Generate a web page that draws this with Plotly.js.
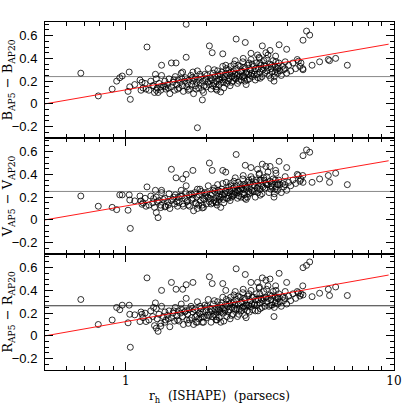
<!DOCTYPE html>
<html>
<head>
<meta charset="utf-8">
<script src="https://cdn.plot.ly/plotly-3.0.0.min.js"></script>
<style>
  body { margin: 0; background: #fff; }
  #graph { width: 415px; height: 415px; }
</style>
</head>
<body>
<div id="graph"></div>
<script>
// half-light radius (pc) of each cluster, shared by the three panels
var rH = [
  0.68,0.79,0.89,0.925,0.95,0.97,1.02,1.03,1.035,1.04,
  1.08,1.13,1.14,1.15,1.20,1.19,1.27,1.29,1.36,1.32,
  1.30,1.35,1.40,1.48,1.54,1.63,1.68,1.68,1.78,1.85,
  1.93,2.05,2.10,2.17,2.26,2.30,2.36,2.58,2.79,2.93,
  3.10,3.15,3.23,3.33,3.45,3.73,3.98,3.62,3.63,3.69,
  3.57,3.47,3.17,2.78,3.92,4.36,4.40,4.50,4.46,4.57,
  4.58,4.58,4.72,4.85,4.95,5.28,5.69,5.75,6.06,6.70,
  1.16,1.18,1.22,1.24,1.26,1.28,1.30,1.31,1.33,1.35,
  1.36,1.38,1.40,1.41,1.43,1.45,1.46,1.48,1.50,1.52,
  1.53,1.55,1.57,1.58,1.60,1.61,1.63,1.64,1.66,1.67,
  1.69,1.70,1.72,1.73,1.75,1.76,1.78,1.79,1.81,1.82,
  1.84,1.85,1.87,1.88,1.90,1.91,1.93,1.94,1.96,1.97,
  1.99,2.00,2.02,2.03,2.05,2.07,2.08,2.10,2.12,2.13,
  2.15,2.17,2.18,2.20,2.22,2.23,2.25,2.27,2.29,2.30,
  2.32,2.34,2.36,2.38,2.40,2.42,2.43,2.45,2.47,2.49,
  2.51,2.53,2.55,2.57,2.59,2.61,2.63,2.65,2.67,2.69,
  2.71,2.73,2.75,2.77,2.79,2.81,2.83,2.85,2.87,2.89,
  2.91,2.93,2.95,2.97,3.00,3.02,3.04,3.07,3.09,3.12,
  3.14,3.17,3.19,3.22,3.25,3.27,3.30,3.33,3.36,3.39,
  3.42,3.45,3.48,3.51,3.54,3.58,3.61,3.64,3.68,3.72,
  3.76,3.80,3.84,3.88,3.93,3.98,4.05,4.12,4.20,4.30,
  1.44,1.51,1.56,1.62,1.71,1.77,1.83,1.89,1.95,2.01,
  2.06,2.11,2.14,2.19,2.21,2.24,2.28,2.31,2.35,2.37,
  2.41,2.44,2.46,2.48,2.52,2.54,2.56,2.60,2.62,2.64,
  2.68,2.72,2.74,2.76,2.80,2.84,2.88,2.92,2.96,3.01,
  3.05,3.11,3.16,3.21,3.28,3.35,3.40,3.50,3.60,3.70
];

var bDiff = [
  .27,.07,.13,.20,.23,.245,.11,.28,.15,.04,
  .17,.21,.12,.19,.50,.13,.16,.26,.34,.10,
  .12,.15,.15,.36,.36,.28,.41,.70,.28,-.21,
  .035,.51,.45,.13,.105,.44,.34,.57,.54,.445,
  .43,.40,.51,.45,.47,.52,.48,.42,.37,.31,
  .20,.225,.225,.20,.31,.39,.375,.36,.33,.31,
  .30,.56,.64,.605,.34,.37,.39,.38,.40,.34,
  .14,.18,.12,.20,.16,.10,.22,.14,.18,.12,
  .25,.16,.20,.13,.17,.22,.09,.15,.19,.12,
  .24,.17,.21,.14,.19,.27,.16,.11,.20,.23,
  .15,.18,.21,.13,.25,.17,.20,.09,.22,.16,
  .19,.29,.14,.21,.18,.24,.12,.20,.16,.26,
  .22,.15,.19,.31,.17,.23,.13,.21,.27,.18,
  .24,.15,.20,.29,.22,.17,.26,.19,.23,.33,
  .14,.21,.27,.18,.25,.30,.22,.16,.28,.24,
  .20,.35,.26,.22,.31,.18,.27,.24,.33,.21,
  .29,.37,.25,.23,.31,.17,.28,.34,.26,.22,
  .30,.39,.27,.24,.33,.29,.21,.36,.26,.31,
  .41,.28,.34,.24,.30,.38,.27,.33,.29,.43,
  .25,.35,.31,.28,.38,.24,.33,.30,.27,.36,
  .29,.25,.33,.30,.37,.27,.34,.29,.36,.31,
  .14,.21,.13,.22,.12,.23,.13,.26,.10,.25,
  .20,.16,.30,.12,.25,.21,.28,.19,.24,.31,
  .20,.27,.33,.19,.29,.23,.38,.25,.34,.20,
  .28,.24,.40,.32,.27,.21,.36,.25,.35,.26,
  .31,.23,.36,.31,.34,.40,.32,.34,.28,.33
];

var vDiff = [
  .21,.12,.11,.09,.22,.22,.085,.22,.175,-.075,
  .167,.21,.167,.137,.29,.12,.187,.26,.26,.02,
  .064,.108,.114,.445,.37,.36,.40,.30,.435,.10,
  .105,.50,.435,.15,.11,.435,.42,.575,.48,.46,
  .445,.41,.49,.47,.47,.515,.46,.435,.41,.31,
  .20,.27,.217,.19,.31,.40,.39,.357,.34,.39,
  .33,.565,.615,.595,.33,.36,.39,.33,.41,.31,
  .15,.19,.13,.21,.15,.11,.20,.16,.17,.13,
  .24,.18,.19,.12,.16,.23,.10,.17,.18,.14,
  .22,.16,.20,.15,.21,.26,.14,.12,.19,.24,
  .16,.17,.22,.12,.23,.18,.19,.08,.24,.15,
  .20,.27,.13,.22,.17,.25,.13,.19,.18,.24,
  .21,.14,.20,.30,.16,.22,.14,.23,.26,.17,
  .25,.16,.19,.31,.21,.18,.25,.20,.22,.32,
  .15,.23,.26,.19,.24,.29,.21,.17,.30,.23,
  .21,.34,.25,.24,.30,.19,.26,.25,.31,.20,
  .28,.36,.27,.22,.30,.18,.29,.33,.25,.23,
  .32,.38,.26,.25,.31,.30,.20,.35,.28,.30,
  .40,.27,.35,.23,.29,.37,.28,.32,.31,.42,
  .24,.34,.30,.29,.36,.23,.35,.29,.26,.35,
  .31,.24,.32,.29,.38,.26,.33,.30,.35,.32,
  .13,.20,.12,.21,.13,.22,.14,.27,.11,.24,
  .19,.15,.28,.13,.26,.20,.27,.18,.25,.33,
  .19,.26,.32,.20,.28,.22,.37,.26,.33,.21,
  .27,.23,.39,.31,.28,.20,.35,.24,.36,.25,
  .33,.24,.35,.30,.35,.38,.31,.33,.27,.32
];

var rDiff = [
  .32,.10,.14,.25,.23,.27,.115,.27,.19,-.10,
  .185,.126,.21,.19,.51,.126,.25,.29,.40,.04,
  .068,.085,.12,.47,.41,.41,.45,.33,.47,.12,
  .164,.52,.46,.14,.12,.46,.40,.59,.54,.47,
  .47,.43,.51,.49,.50,.55,.47,.44,.40,.33,
  .17,.27,.24,.18,.33,.39,.38,.37,.35,.44,
  .36,.60,.62,.65,.345,.375,.41,.355,.43,.355,
  .16,.20,.14,.22,.17,.09,.24,.15,.19,.11,
  .26,.17,.21,.14,.18,.22,.08,.16,.20,.13,
  .25,.18,.22,.13,.20,.28,.17,.10,.21,.22,
  .14,.19,.23,.14,.26,.16,.21,.10,.23,.17,
  .18,.30,.15,.20,.19,.24,.12,.21,.17,.27,
  .23,.16,.18,.32,.18,.24,.12,.22,.28,.19,
  .23,.17,.21,.30,.23,.16,.27,.21,.24,.34,
  .13,.22,.28,.17,.26,.31,.23,.15,.29,.25,
  .19,.36,.27,.23,.32,.17,.28,.23,.34,.22,
  .30,.38,.26,.24,.32,.16,.27,.35,.27,.21,
  .31,.40,.28,.23,.34,.28,.22,.37,.27,.32,
  .42,.29,.33,.25,.31,.39,.26,.34,.30,.44,
  .26,.36,.32,.27,.39,.25,.34,.31,.28,.37,
  .30,.26,.34,.31,.39,.28,.35,.31,.37,.33,
  .15,.22,.14,.23,.11,.24,.12,.26,.12,.26,
  .21,.17,.31,.14,.24,.22,.29,.20,.23,.32,
  .21,.28,.34,.18,.30,.24,.39,.24,.35,.19,
  .29,.25,.41,.33,.26,.22,.37,.26,.34,.27,
  .32,.22,.37,.32,.33,.41,.33,.35,.29,.34
];

// fitted relations (red) and median offsets (black)
var fitX = [0.5, 9.55];
var fitB = [0.0, 0.525];
var fitV = [0.0, 0.52];
var fitR = [0.0, 0.535];
var medX = [0.5, 10];
var medB = [0.24, 0.24];
var medV = [0.25, 0.25];
var medR = [0.265, 0.265];

var xTicks = [1, 10];
var xMinor = [0.5, 0.6, 0.7, 0.8, 0.9, 2, 3, 4, 5, 6, 7, 8, 9];

var panel = function(xa, ya, yVals, fitY, medY, medColor) {
  return [{
    x: medX, y: medY, xaxis: xa, yaxis: ya,
    type: "scatter", mode: "lines",
    line: {color: medColor, width: 1}
  }, {
    x: rH, y: yVals, xaxis: xa, yaxis: ya,
    type: "scatter", mode: "markers",
    marker: {symbol: "circle-open", size: 6, color: "black", line: {width: 0.8}}
  }, {
    x: fitX, y: fitY, xaxis: xa, yaxis: ya,
    type: "scatter", mode: "lines",
    line: {color: "red", width: 0.9}
  }];
};

var data = [].concat(
  panel("x", "y", rDiff, fitR, medR, "#333"),
  panel("x2", "y2", vDiff, fitV, medV, "#888"),
  panel("x3", "y3", bDiff, fitB, medB, "#888")
);

var xAxis = function(anchor, labels) {
  return {
    type: "log", anchor: anchor, range: [Math.log10(0.5), 1],
    tickmode: "array", tickvals: xTicks, ticktext: ["1", "10"],
    ticks: "inside", ticklen: 8, tickcolor: "black",
    minor: {tickmode: "array", tickvals: xMinor, ticks: "inside", ticklen: 4, tickcolor: "black"},
    showline: true, linecolor: "black", linewidth: 1, mirror: "ticks",
    showgrid: false, zeroline: false, showticklabels: labels,
    tickfont: {family: "DejaVu Serif", size: 12, color: "black"},
    title: labels ? {text: "r<sub>h</sub>  (ISHAPE)  (parsecs)",
                     font: {family: "DejaVu Serif", size: 12, color: "black"}, standoff: 4} : {text: ""}
  };
};

var yAxis = function(anchor, domain, titleText) {
  return {
    anchor: anchor, domain: domain, range: [-0.3, 0.72],
    tickmode: "linear", tick0: 0, dtick: 0.2,
    ticks: "inside", ticklen: 8, tickcolor: "black",
    minor: {dtick: 0.05, tick0: 0, ticks: "inside", ticklen: 4, tickcolor: "black"},
    showline: true, linecolor: "black", linewidth: 1, mirror: "ticks",
    showgrid: false, zeroline: false,
    tickfont: {family: "Liberation Sans", size: 13, color: "black"},
    ticklabelstandoff: 4,
    title: {text: titleText, font: {family: "DejaVu Serif", size: 13, color: "black"}, standoff: 4}
  };
};

var layout = {
  width: 415,
  height: 415,
  showlegend: false,
  paper_bgcolor: "white",
  plot_bgcolor: "white",
  margin: {l: 45, r: 21, t: 22, b: 45},
  xaxis: xAxis("y", true),
  xaxis2: xAxis("y2", false),
  xaxis3: xAxis("y3", false),
  yaxis: yAxis("x", [0, 1 / 3], "R<sub>AP5</sub> \u2212 R<sub>AP20</sub>"),
  yaxis2: yAxis("x2", [1 / 3, 2 / 3], "V<sub>AP5</sub> \u2212 V<sub>AP20</sub>"),
  yaxis3: yAxis("x3", [2 / 3, 1], "B<sub>AP5</sub> \u2212 B<sub>AP20</sub>")
};

Plotly.newPlot(document.getElementById("graph"), data, layout, {staticPlot: true});
</script>
</body>
</html>
